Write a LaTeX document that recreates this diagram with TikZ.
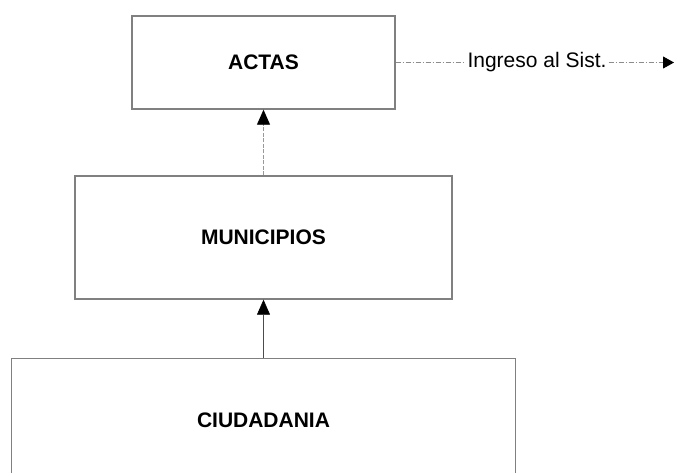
\documentclass[tikz,border=0pt]{standalone}
\usepackage{fontspec}
\setmainfont{Liberation Sans}
\usetikzlibrary{arrows.meta}
\tikzstyle{nivel}=[rectangle,
	line width=1.4pt,
	draw=black!50,
	font=\fontsize{21}{25}\selectfont\bfseries]
\tikzstyle{sube}=[-{Triangle[length=15pt,width=13pt,color=black]}]
\tikzstyle{ingreso}=[black!45,
	line width=0.8pt,
	dash pattern=on 5pt off 2pt on 1pt off 2pt]

\begin{document}
\begin{tikzpicture}[x=1pt,y=1pt]
	\useasboundingbox (0,0) rectangle (674,-472);
	\node (actas) [nivel, minimum width=263pt, minimum height=93pt] at (263.5,-62.5) {ACTAS};

	\node (municipios) [nivel, below of=actas, node distance=175pt, minimum width=377pt, minimum height=123pt]{MUNICIPIOS};
	\draw[sube, black!40, line width=0.9pt, dash pattern=on 4pt off 1.5pt] (municipios) -- (actas);

	\node (ciudadania) [nivel, below of=municipios, node distance=183pt, minimum width=504pt, minimum height=124pt]{CIUDADANIA};
	\draw[sube, black!70, line width=0.6pt] (ciudadania) -- (municipios);

	\node (ingreso) [right of=actas, node distance=273.5pt, inner sep=2pt, font=\fontsize{21}{25}\selectfont]{Ingreso al Sist.};
	\coordinate [right of=ingreso, node distance=137pt] (fin);
	\draw[ingreso] (actas) -- (ingreso);
	\draw[ingreso, -{Triangle[length=11pt,width=12pt,color=black]}] (ingreso) -- (fin);
\end{tikzpicture}
\end{document}
